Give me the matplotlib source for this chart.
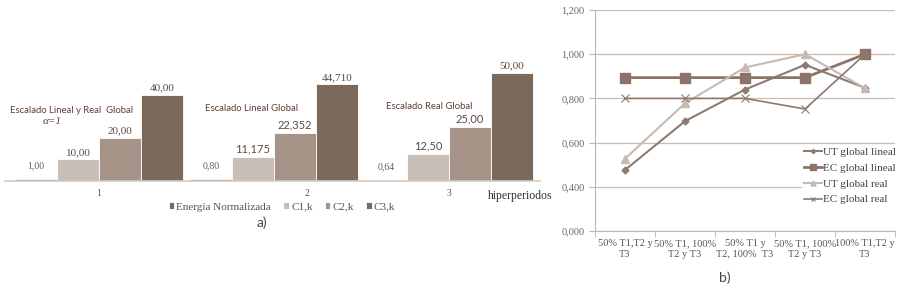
import numpy as np
import matplotlib
matplotlib.use("Agg")
import matplotlib.pyplot as plt

# ---- data: a) normalised energy and C_k per hyperperiod
groups = ["1", "2", "3"]
energia = [1.00, 0.80, 0.64]
c1 = [10.00, 11.175, 12.50]
c2 = [20.00, 22.352, 25.00]
c3 = [40.00, 44.710, 50.00]
lbl_energia = ["1,00", "0,80", "0,64"]
lbl_c1 = ["10,00", "11,175", "12,50"]
lbl_c2 = ["20,00", "22,352", "25,00"]
lbl_c3 = ["40,00", "44,710", "50,00"]
group_titles = ["Escalado Lineal y Real  Global", "Escalado Lineal Global", "Escalado Real Global"]

# ---- data: b) utilisation / energy per scenario
scenarios = ["50% T1,T2 y\nT3", "50% T1, 100%\nT2 y T3", "50% T1 y\nT2, 100%  T3",
             "50% T1, 100%\nT2 y T3", "100% T1,T2 y\nT3"]
ut_lineal = [0.476, 0.697, 0.840, 0.952, 0.848]
ec_lineal = [0.894, 0.894, 0.894, 0.894, 1.000]
ut_real = [0.527, 0.778, 0.940, 1.000, 0.846]
ec_real = [0.800, 0.800, 0.800, 0.752, 1.000]
ytick_vals = [0.2, 0.4, 0.6, 0.8, 1.0, 1.2]
ytick_lbls = ["0,000", "0,400", "0,600", "0,800", "1,000", "1,200"]

serif = "Liberation Serif"
sans = "Lato"
txt_col = "#5a4a42"

fig = plt.figure(figsize=(9.16, 2.94), dpi=100)

# ================= a) bar chart =================
ax = fig.add_axes([5/916, 113/294, 535/916, 121/294])
x = np.arange(len(groups))
w = 0.24
cols = ["#7b6a5e", "#c9bfb6", "#a69488", "#7b695c"]
series = [energia, c1, c2, c3]
labels = [lbl_energia, lbl_c1, lbl_c2, lbl_c3]
names = ["Energía Normalizada", "C1,k", "C2,k", "C3,k"]
for i, (vals, col, lb, nm) in enumerate(zip(series, cols, labels, names)):
    pos = x + (i - 1.5) * w
    ax.bar(pos, vals, width=w, color=col, edgecolor="white", linewidth=0.6, label=nm)
    for j, (p, v, t) in enumerate(zip(pos, vals, lb)):
        fam = sans if (j > 0 and i in (1, 2)) else serif
        off = 4 if i == 0 else 1.2
        ax.text(p, v + off, t, ha="center", va="bottom", fontsize=8 if i else 7,
                family=fam, color=txt_col if i else "#6b5d55")
ax.set_xlim(-0.537, 2.52)
ax.set_ylim(0, 56)
for s in ["top", "right", "left"]:
    ax.spines[s].set_visible(False)
ax.spines["bottom"].set_color("#d3cbc4")
ax.spines["bottom"].set_linewidth(1.2)
ax.set_yticks([])
ax.set_xticks([0, 1.19, 2], groups, family=serif, fontsize=7, color="#555555")
ax.tick_params(axis="x", length=0, pad=6)

ax.text(-0.51, 31.7, group_titles[0], fontsize=6.8, family=sans, color="#5e3f33")
ax.text(-0.27, 26.6, "α=1", fontsize=8, family=serif, style="italic",
        color="#5e3f33", ha="center")
ax.text(0.607, 32.6, group_titles[1], fontsize=6.8, family=sans, color="#5e3f33")
ax.text(1.64, 33.5, group_titles[2], fontsize=6.8, family=sans, color="#5e3f33")
ax.text(2.22, -4.0, "hiperperiodos", fontsize=8.5, family=serif, color="#333333",
        va="top")

lega = fig.legend(loc="center", bbox_to_anchor=(282/916, 1 - 207/294), ncol=4,
                  frameon=False, prop={"family": serif, "size": 8}, handlelength=0.5,
                  handleheight=0.5, handletextpad=0.2, columnspacing=1.1)
for t in lega.get_texts():
    t.set_fontfamily(serif)
    t.set_color("#555555")
fig.text(262/916, 1 - 223/294, "a)", fontsize=10, family=sans, color="#444444",
         ha="center", va="center")

# ================= b) line chart =================
bx = fig.add_axes([595/916, 63/294, 300/916, 221/294])
xi = np.arange(len(scenarios))
bx.plot(xi, ut_lineal, color="#8d7b70", lw=1.5, marker="D", ms=3.5, label="UT global lineal")
bx.plot(xi, ec_lineal, color="#8c7568", lw=2.0, marker="s", ms=7, label="EC global lineal")
bx.plot(xi, ut_real, color="#c6bab2", lw=1.5, marker="^", ms=6, label="UT global real")
bx.plot(xi, ec_real, color="#8e796d", lw=1.2, marker="x", ms=6, mew=0.8,
        label="EC global real")
bx.set_xlim(-0.5, 4.5)
bx.set_ylim(0.2, 1.2)
bx.set_yticks(ytick_vals, ytick_lbls, family=serif, fontsize=7.5, color="#666666")
bx.yaxis.grid(True, color="#cbbcae", lw=0.9)
bx.set_axisbelow(True)
bx.set_xticks(xi, scenarios, family=serif, fontsize=7.5, color="#555555")
bx.set_xticks(np.arange(-0.5, 5, 1), minor=True)
bx.tick_params(axis="x", which="major", length=0, pad=6)
bx.tick_params(axis="x", which="minor", length=4, color="#c2b4a8")
bx.tick_params(axis="y", length=4, color="#c2b4a8")
for s in ["top", "right"]:
    bx.spines[s].set_visible(False)
for s in ["left", "bottom"]:
    bx.spines[s].set_color("#c2b4a8")
leg = bx.legend(loc="center right", bbox_to_anchor=(1.03, 0.25), frameon=True,
                prop={"family": serif, "size": 8}, handlelength=1.6, markerscale=0.6,
                handletextpad=0.1, labelspacing=0.55, borderpad=0.2,
                labelcolor="#444444")
leg.get_frame().set_facecolor("white")
leg.get_frame().set_edgecolor("white")
leg.get_frame().set_alpha(1)
fig.text(725/916, 1 - 278/294, "b)", fontsize=10, family=sans, color="#444444",
         ha="center", va="center")

fig.savefig("out.png", dpi=100, facecolor="white")
